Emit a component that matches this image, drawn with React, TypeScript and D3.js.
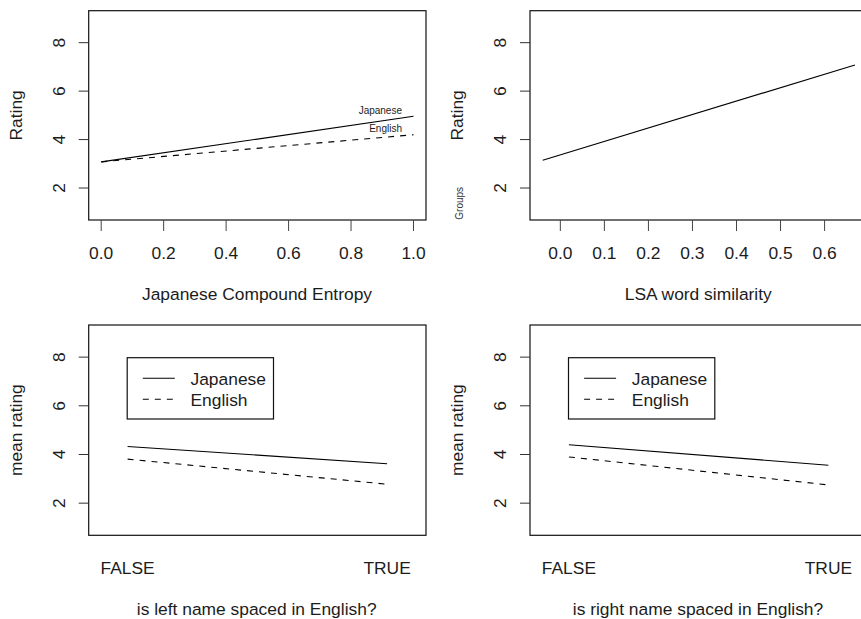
import React from "react";
import * as d3 from "d3";

// ---- data ----
const yTicks = [2, 4, 6, 8];
const entropyTicks = [0, 0.2, 0.4, 0.6, 0.8, 1.0];
const lsaTicks = [0, 0.1, 0.2, 0.3, 0.4, 0.5, 0.6];
const entropyX = [0, 1];
const entropyJapanese = [3.08, 4.96];
const entropyEnglish = [3.08, 4.2];
const lsaX = [-0.04, 0.669];
const lsaRating = [3.15, 7.08];
const spacedLevels = ["FALSE", "TRUE"];
const leftJapanese = [4.33, 3.62];
const leftEnglish = [3.81, 2.78];
const rightJapanese = [4.4, 3.56];
const rightEnglish = [3.9, 2.75];
const groupNames = ["Japanese", "English"];

const FONT = "'Liberation Sans', Arial, Helvetica, sans-serif";
const TXT = "#1c1c1c";
const DASH = "6,6";
const FS = 17.4;

type Frame = { l: number; r: number; t: number; b: number };

const F1: Frame = { l: 88.7, r: 426, t: 10.7, b: 220 };
const F2: Frame = { l: 530, r: 867.3, t: 10.7, b: 220 };
const F3: Frame = { l: 88.7, r: 426, t: 325, b: 535.3 };
const F4: Frame = { l: 530, r: 867.3, t: 325, b: 535.3 };

function yScale(f: Frame) {
  return d3.scaleLinear().domain([0.68, 9.32]).range([f.b, f.t]);
}

function YAxis({ f, title }: { f: Frame; title: string }) {
  const y = yScale(f);
  return (
    <g>
      {yTicks.map((t) => (
        <g key={t}>
          <line x1={f.l - 10} x2={f.l} y1={y(t)} y2={y(t)} stroke="#333" strokeWidth={1} />
          <text
            transform={`translate(${f.l - 24},${y(t)}) rotate(-90)`}
            textAnchor="middle"
            fontSize={FS}
            fontFamily={FONT}
            fill={TXT}
          >
            {t}
          </text>
        </g>
      ))}
      <text
        transform={`translate(${f.l - 67},${(f.t + f.b) / 2}) rotate(-90)`}
        textAnchor="middle"
        fontSize={FS}
        fontFamily={FONT}
        fill={TXT}
      >
        {title}
      </text>
    </g>
  );
}

function Box({ f }: { f: Frame }) {
  return (
    <rect x={f.l} y={f.t} width={f.r - f.l} height={f.b - f.t} fill="none" stroke="#111" strokeWidth={1.2} />
  );
}

function NumXAxis({ f, x, ticks, digits }: { f: Frame; x: d3.ScaleLinear<number, number>; ticks: number[]; digits: number }) {
  return (
    <g>
      {ticks.map((t) => (
        <g key={t}>
          <line x1={x(t)} x2={x(t)} y1={f.b} y2={f.b + 11} stroke="#444" strokeWidth={1} />
          <text x={x(t)} y={f.b + 38.5} textAnchor="middle" fontSize={FS} fontFamily={FONT} fill={TXT}>
            {t.toFixed(digits)}
          </text>
        </g>
      ))}
    </g>
  );
}

function Panel1() {
  const f = F1;
  const x = d3.scaleLinear().domain([-0.04, 1.04]).range([f.l, f.r]);
  const y = yScale(f);
  const line = d3.line<number>().x((_, i) => x(entropyX[i])).y((d) => y(d));
  return (
    <g>
      <Box f={f} />
      <YAxis f={f} title="Rating" />
      <NumXAxis f={f} x={x} ticks={entropyTicks} digits={1} />
      <text x={257} y={300} textAnchor="middle" fontSize={FS} fontFamily={FONT} fill={TXT}>
        Japanese Compound Entropy
      </text>
      <path d={line(entropyJapanese) || ""} fill="none" stroke="#000" strokeWidth={1.1} />
      <path d={line(entropyEnglish) || ""} fill="none" stroke="#000" strokeWidth={1.1} strokeDasharray={DASH} />
      <text x={402} y={113.5} textAnchor="end" fontSize={10} fontFamily={FONT} fill={TXT}>
        {groupNames[0]}
      </text>
      <text x={402} y={132} textAnchor="end" fontSize={10} fontFamily={FONT} fill={TXT}>
        {groupNames[1]}
      </text>
    </g>
  );
}

function Panel2() {
  const f = F2;
  const x = d3.scaleLinear().domain([-0.0689, 0.697]).range([f.l, f.r]);
  const y = yScale(f);
  const line = d3.line<number>().x((_, i) => x(lsaX[i])).y((d) => y(d));
  return (
    <g>
      <Box f={f} />
      <YAxis f={f} title="Rating" />
      <text
        transform={`translate(463,203.3) rotate(-90)`}
        textAnchor="middle"
        fontSize={10}
        fontFamily={FONT}
        fill="#333"
      >
        Groups
      </text>
      <NumXAxis f={f} x={x} ticks={lsaTicks} digits={1} />
      <text x={698.3} y={300} textAnchor="middle" fontSize={FS} fontFamily={FONT} fill={TXT}>
        LSA word similarity
      </text>
      <path d={line(lsaRating) || ""} fill="none" stroke="#000" strokeWidth={1.1} />
    </g>
  );
}

function InteractionPanel({ f, jap, eng, title }: { f: Frame; jap: number[]; eng: number[]; title: string }) {
  const x = d3.scaleLinear().domain([0.85, 2.15]).range([f.l, f.r]);
  const y = yScale(f);
  const line = d3.line<number>().x((_, i) => x(i + 1)).y((d) => y(d));
  const lx = f.l + 38.5;
  const ly = f.t + 32.7;
  return (
    <g>
      <Box f={f} />
      <YAxis f={f} title="mean rating" />
      {spacedLevels.map((lv, i) => (
        <text key={lv} x={x(i + 1)} y={f.b + 38.3} textAnchor="middle" fontSize={FS} fontFamily={FONT} fill={TXT}>
          {lv}
        </text>
      ))}
      <text x={f.l + 168} y={f.b + 80} textAnchor="middle" fontSize={FS} fontFamily={FONT} fill={TXT}>
        {title}
      </text>
      <path d={line(jap) || ""} fill="none" stroke="#000" strokeWidth={1.1} />
      <path d={line(eng) || ""} fill="none" stroke="#000" strokeWidth={1.1} strokeDasharray={DASH} />
      <rect x={lx} y={ly} width={146.3} height={61.3} fill="#fff" stroke="#111" strokeWidth={1.2} />
      {groupNames.map((g, i) => (
        <g key={g}>
          <line
            x1={lx + 15.6}
            x2={lx + 47.6}
            y1={ly + 20.6 + i * 21}
            y2={ly + 20.6 + i * 21}
            stroke="#000"
            strokeWidth={1.1}
            strokeDasharray={i === 1 ? DASH : undefined}
          />
          <text x={lx + 63.3} y={ly + 27 + i * 21} fontSize={FS} fontFamily={FONT} fill={TXT}>
            {g}
          </text>
        </g>
      ))}
    </g>
  );
}

export default function App() {
  return (
    <svg
      width={861}
      height={619}
      viewBox="0 0 861 619"
      style={{ position: "absolute", left: 0, top: 0, background: "#fff", display: "block" }}
    >
      <rect x={0} y={0} width={861} height={619} fill="#fff" />
      <Panel1 />
      <Panel2 />
      <InteractionPanel f={F3} jap={leftJapanese} eng={leftEnglish} title="is left name spaced in English?" />
      <InteractionPanel f={F4} jap={rightJapanese} eng={rightEnglish} title="is right name spaced in English?" />
    </svg>
  );
}
